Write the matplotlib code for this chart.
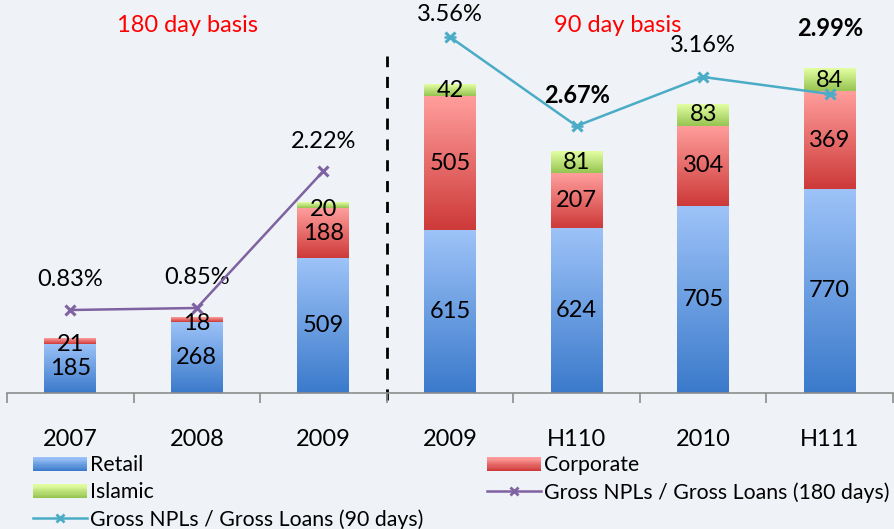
import numpy as np
import matplotlib.pyplot as plt
from matplotlib.colors import LinearSegmentedColormap
from matplotlib.patches import Patch, Rectangle
from matplotlib.lines import Line2D
from matplotlib.legend_handler import HandlerBase

plt.rcParams['font.family'] = ['Lato', 'DejaVu Sans']

# data
categories = ['2007', '2008', '2009', '2009', 'H110', '2010', 'H111']
retail = [185, 268, 509, 615, 624, 705, 770]
corporate = [21, 18, 188, 505, 207, 304, 369]
islamic = [0, 0, 20, 42, 81, 83, 84]
npl_180 = [0.83, 0.85, 2.22]
npl_90 = [3.56, 2.67, 3.16, 2.99]
bold_90 = [False, True, False, True]

# label offsets above the line points (points)
off_180 = [22, 22, 21]
off_90 = [16, 22, 23, 47]

bg = '#EFF2F6'
W, H = 895, 529

fig = plt.figure(figsize=(W / 100, H / 100), dpi=100, facecolor=bg)
ax = fig.add_axes([7 / W, (H - 393) / H, 886 / W, (393 - 5) / H])
ax.set_facecolor('none')

x = np.arange(len(categories))
retail = np.array(retail)
corporate = np.array(corporate)
islamic = np.array(islamic)

grads = {
    'retail': ('#3B7ACB', '#9DC3F8'),
    'corp': ('#CD3A39', '#FF9E9C'),
    'isl': ('#96C451', '#E3FFA2'),
}
cmaps = {k: LinearSegmentedColormap.from_list(k, v) for k, v in grads.items()}


def grad_bars(bars, key):
    g = np.linspace(0, 1, 100).reshape(-1, 1)
    for b in bars:
        if b.get_height() <= 0:
            continue
        x0, y0 = b.get_x(), b.get_y()
        ax.imshow(g, cmap=cmaps[key], origin='lower', aspect='auto', zorder=2,
                  extent=[x0, x0 + b.get_width(), y0, y0 + b.get_height()])


w = 0.41
b1 = ax.bar(x, retail, w, color='none', zorder=2)
b2 = ax.bar(x, corporate, w, bottom=retail, color='none', zorder=2)
b3 = ax.bar(x, islamic, w, bottom=retail + corporate, color='none', zorder=2)
grad_bars(b1, 'retail')
grad_bars(b2, 'corp')
grad_bars(b3, 'isl')

fs = 17
for bars, vals in [(b1, retail), (b2, corporate), (b3, islamic)]:
    for b, v in zip(bars, vals):
        if v <= 0:
            continue
        yc = b.get_y() + b.get_height() / 2
        if v < 30:
            yc -= 14
        ax.text(b.get_x() + b.get_width() / 2, yc, str(v), ha='center',
                va='center', fontsize=fs, zorder=5)

ax.set_xlim(-0.5, len(categories) - 0.5)
ax.set_ylim(0, 388 / 0.265)

for s in ['top', 'left', 'right']:
    ax.spines[s].set_visible(False)
ax.spines['bottom'].set_color('#8C8C8C')
ax.spines['bottom'].set_linewidth(1.2)
ax.set_yticks([])
ax.set_xticks(x)
ax.set_xticklabels(categories, fontsize=fs)
ax.tick_params(axis='x', which='major', length=0, pad=26)
ax.set_xticks(np.arange(-0.5, len(categories)), minor=True)
ax.tick_params(axis='x', which='minor', length=7, width=1.2, color='#8C8C8C')

# dashed divider
ax.vlines(2.5, -25, 1270, colors='black', linestyles=(0, (4, 3.5)),
          linewidth=2, clip_on=False, zorder=1)

# ratio lines
ax2 = ax.twinx()
ax2.set_ylim(0, 3.88)
ax2.axis('off')
c180 = '#7E62A1'
c90 = '#4AACC6'
ax2.plot(x[:3], npl_180, color=c180, lw=1.8, marker='x', ms=7, mew=2.2, zorder=4)
ax2.plot(x[3:], npl_90, color=c90, lw=1.8, marker='x', ms=7, mew=2.2, zorder=4)
ax2.plot(x[3:], npl_90, ls='none', marker='_', ms=8, mew=1.8, color=c90, zorder=4)

for xi, v, o in zip(x[:3], npl_180, off_180):
    ax2.annotate(f'{v:.2f}%', (xi, v), xytext=(0, o), textcoords='offset points',
                 ha='center', va='center', fontsize=fs)
for xi, v, o, b in zip(x[3:], npl_90, off_90, bold_90):
    ax2.annotate(f'{v:.2f}%', (xi, v), xytext=(0, o), textcoords='offset points',
                 ha='center', va='center', fontsize=fs,
                 fontweight='bold' if b else 'normal')

fig.text(188 / W, 1 - 25 / H, '180 day basis', color='#FF0000', fontsize=fs,
         ha='center', va='center')
fig.text(618 / W, 1 - 25 / H, '90 day basis', color='#FF0000', fontsize=fs,
         ha='center', va='center')


# legend patches with gradient
class GradHandler(HandlerBase):
    def create_artists(self, legend, orig, xd, yd, width, height, fontsize, trans):
        cm = cmaps[orig.get_label()]
        n = 12
        arts = []
        for i in range(n):
            r = Rectangle((xd, yd + i * height / n), width, height / n + 0.2,
                          facecolor=cm(i / (n - 1)), edgecolor='none',
                          transform=trans)
            arts.append(r)
        return arts


h_ret = Patch(label='retail')
h_cor = Patch(label='corp')
h_isl = Patch(label='isl')
h_180 = Line2D([], [], color=c180, lw=1.8, marker='x', ms=6, mew=2)
h_90 = Line2D([], [], color=c90, lw=1.8, marker='x', ms=6, mew=2)

lkw = dict(frameon=False, fontsize=15.3, handlelength=2.55, handleheight=0.65,
           handletextpad=0.15, labelspacing=0.33, borderpad=0, borderaxespad=0,
           loc='upper left', handler_map={Patch: GradHandler()})
fig.legend([h_ret, h_isl, h_90],
           ['Retail', 'Islamic', 'Gross NPLs / Gross Loans (90 days)'],
           bbox_to_anchor=(33 / W, 1 - 455 / H), **lkw)
fig.legend([h_cor, h_180],
           ['Corporate', 'Gross NPLs / Gross Loans (180 days)'],
           bbox_to_anchor=(487 / W, 1 - 455 / H), **lkw)

fig.savefig('out.png', dpi=100, facecolor=bg)
